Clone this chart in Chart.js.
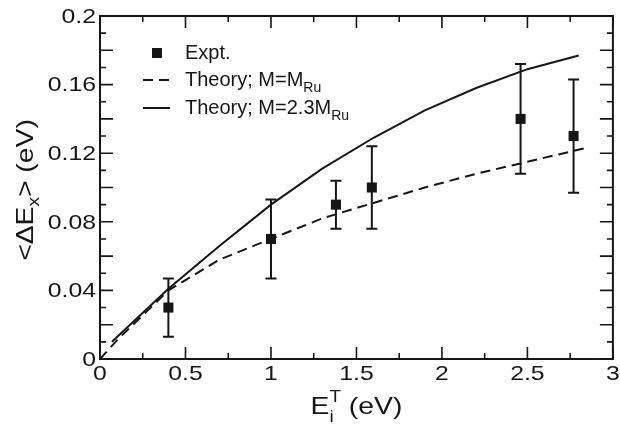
<!DOCTYPE html>
<html><head><meta charset="utf-8">
<script src="https://cdn.jsdelivr.net/npm/chart.js@4.4.0/dist/chart.umd.min.js"></script>
<style>html,body{margin:0;padding:0;background:#fff}#c{display:block}</style>
</head><body>
<canvas id="c" width="620" height="432"></canvas>
<script>
// ---- data ----
const exptX   = [0.40, 1.00, 1.38, 1.59, 2.46, 2.77];
const exptY   = [0.030, 0.070, 0.090, 0.100, 0.140, 0.130];
const exptErr = [0.017, 0.023, 0.014, 0.024, 0.032, 0.033];

const theoryMX = [0.0, 0.1, 0.4, 0.7, 1.0, 1.3, 1.6, 1.9, 2.2, 2.5, 2.84];
const theoryMY = [0.000, 0.011, 0.040, 0.058, 0.070, 0.082, 0.091, 0.100, 0.108, 0.115, 0.123];

const theory23X = [0.07, 0.4, 0.7, 1.0, 1.3, 1.6, 1.9, 2.2, 2.5, 2.8];
const theory23Y = [0.010, 0.041, 0.066, 0.090, 0.111, 0.129, 0.145, 0.158, 0.169, 0.177];

const xTickValues = [0, 0.5, 1, 1.5, 2, 2.5, 3];
const xTickLabels = ['0', '0.5', '1', '1.5', '2', '2.5', '3'];
const yTickValues = [0, 0.04, 0.08, 0.12, 0.16, 0.2];
const yTickLabels = ['0', '0.04', '0.08', '0.12', '0.16', '0.2'];

const legendLabels = ['Expt.', 'Theory; M=M', 'Theory; M=2.3M'];
const legendSubs   = ['', 'Ru', 'Ru'];

const INK = '#161616';
const FONT = '"Liberation Sans", Arial, Helvetica, sans-serif';
const STRETCH = 1.18;

const pts = (xs, ys) => xs.map((v, i) => ({x: v, y: ys[i]}));

// draw a run of text parts; each part {t, size, dy, back}
function richWidth(ctx, parts) {
  let w = 0, last = 0;
  parts.forEach(p => {
    ctx.font = p.size + 'px ' + FONT;
    const pw = ctx.measureText(p.t).width;
    if (p.back) { w -= last; w += Math.max(last, pw); last = Math.max(last, pw); }
    else { w += pw; last = pw; }
  });
  return w;
}
function drawRich(ctx, parts, x, y) {
  let cx = x, lastStart = x;
  parts.forEach(p => {
    ctx.font = p.size + 'px ' + FONT;
    const pw = ctx.measureText(p.t).width;
    const sx = p.back ? lastStart : cx;
    ctx.fillText(p.t, sx, y + (p.dy || 0));
    if (!p.back) { lastStart = cx; cx += pw; }
    else { cx = Math.max(cx, sx + pw); }
  });
}

const decor = {
  id: 'decor',
  afterDatasetsDraw(chart) {
    const {ctx, scales: {x, y}} = chart;
    ctx.save();
    ctx.strokeStyle = INK; ctx.lineWidth = 2;
    exptX.forEach((xv, i) => {
      const px = x.getPixelForValue(xv);
      const t = y.getPixelForValue(exptY[i] + exptErr[i]);
      const b = y.getPixelForValue(exptY[i] - exptErr[i]);
      ctx.beginPath();
      ctx.moveTo(px, t); ctx.lineTo(px, b);
      ctx.moveTo(px - 5.5, t); ctx.lineTo(px + 5.5, t);
      ctx.moveTo(px - 5.5, b); ctx.lineTo(px + 5.5, b);
      ctx.stroke();
    });
    ctx.restore();
  },
  afterDraw(chart) {
    const {ctx, chartArea: a, scales: {x, y}} = chart;
    ctx.save();
    ctx.strokeStyle = INK; ctx.fillStyle = INK;
    // frame
    ctx.lineWidth = 2;
    ctx.strokeRect(a.left, a.top, a.right - a.left, a.bottom - a.top);
    // x ticks (top & bottom, inward)
    ctx.lineWidth = 1.6;
    ctx.beginPath();
    for (let k = 0; k <= 12; k++) {
      const v = k * 0.25, px = x.getPixelForValue(v);
      const len = (k % 2 === 0) ? 12 : 6;
      ctx.moveTo(px, a.bottom); ctx.lineTo(px, a.bottom - len);
      ctx.moveTo(px, a.top); ctx.lineTo(px, a.top + len);
    }
    for (let k = 0; k <= 20; k++) {
      const v = k * 0.01, py = y.getPixelForValue(v);
      const len = (k % 2 === 0) ? 13 : 6;
      ctx.moveTo(a.left, py); ctx.lineTo(a.left + len, py);
      ctx.moveTo(a.right, py); ctx.lineTo(a.right - len, py);
    }
    ctx.stroke();
    // tick labels
    ctx.font = '21px ' + FONT;
    ctx.textBaseline = 'middle';
    ctx.textAlign = 'right';
    yTickValues.forEach((v, i) => {
      ctx.save();
      ctx.translate(a.left - 4, y.getPixelForValue(v) + 1);
      ctx.scale(STRETCH, 1);
      ctx.fillText(yTickLabels[i], 0, 0);
      ctx.restore();
    });
    ctx.textAlign = 'center'; ctx.textBaseline = 'top';
    xTickValues.forEach((v, i) => {
      ctx.save();
      ctx.translate(x.getPixelForValue(v), a.bottom + 5);
      ctx.scale(STRETCH, 1);
      ctx.fillText(xTickLabels[i], 0, 0);
      ctx.restore();
    });
    // axis titles
    ctx.textAlign = 'left'; ctx.textBaseline = 'alphabetic';
    const xt = [{t: 'E', size: 24}, {t: 'T', size: 16, dy: -12}, {t: 'i', size: 16, dy: 8, back: true}, {t: ' (eV)', size: 24}];
    const xw = richWidth(ctx, xt) * STRETCH;
    ctx.save();
    ctx.translate((a.left + a.right) / 2 - xw / 2, 414);
    ctx.scale(STRETCH, 1);
    drawRich(ctx, xt, 0, 0);
    ctx.restore();
    const yt = [{t: '<\u0394E', size: 24}, {t: 'x', size: 16, dy: 6}, {t: '> (eV)', size: 24}];
    const yw = richWidth(ctx, yt) * STRETCH;
    ctx.save();
    ctx.translate(33, 190 + yw / 2);
    ctx.rotate(-Math.PI / 2);
    ctx.scale(STRETCH, 1);
    drawRich(ctx, yt, 0, 0);
    ctx.restore();
    // legend
    ctx.fillRect(152, 48, 10, 10);
    ctx.lineWidth = 2;
    ctx.setLineDash([10, 6]);
    ctx.beginPath(); ctx.moveTo(143, 80); ctx.lineTo(169, 80); ctx.stroke();
    ctx.setLineDash([]);
    ctx.beginPath(); ctx.moveTo(143, 108); ctx.lineTo(170, 108); ctx.stroke();
    const base = [59, 86, 114];
    legendLabels.forEach((t, i) => {
      const parts = [{t: t, size: 20}];
      if (legendSubs[i]) parts.push({t: legendSubs[i], size: 14, dy: 6});
      drawRich(ctx, parts, 185, base[i]);
    });
    ctx.restore();
  }
};

new Chart(document.getElementById('c'), {
  type: 'scatter',
  data: {
    datasets: [
      {label: 'Expt.', data: pts(exptX, exptY), pointStyle: 'rect', pointRadius: 7.1,
       backgroundColor: INK, borderColor: INK, borderWidth: 0, showLine: false},
      {label: 'Theory; M=MRu', data: pts(theoryMX, theoryMY), showLine: true, pointRadius: 0,
       borderColor: INK, borderWidth: 2, borderDash: [10, 6], fill: false, tension: 0},
      {label: 'Theory; M=2.3MRu', data: pts(theory23X, theory23Y), showLine: true, pointRadius: 0,
       borderColor: INK, borderWidth: 2, fill: false, tension: 0}
    ]
  },
  options: {
    responsive: false, animation: false, devicePixelRatio: 1,
    layout: {padding: {top: 16, right: 6, left: 0, bottom: 0}},
    plugins: {legend: {display: false}, tooltip: {enabled: false}},
    scales: {
      x: {type: 'linear', min: 0, max: 3,
          ticks: {display: false}, grid: {display: false, drawTicks: false}, border: {display: false},
          afterFit: s => { s.height = 73; }},
      y: {type: 'linear', min: 0, max: 0.2,
          ticks: {display: false}, grid: {display: false, drawTicks: false}, border: {display: false},
          afterFit: s => { s.width = 100; }}
    }
  },
  plugins: [decor]
});
</script>
</body></html>
